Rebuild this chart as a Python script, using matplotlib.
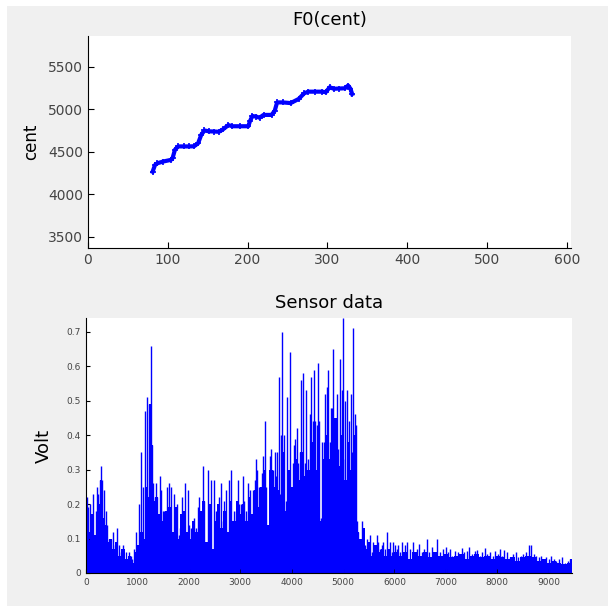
import matplotlib
matplotlib.use('Agg')
import matplotlib.pyplot as plt
from matplotlib.patches import Rectangle

# F0 contour (frame index, cent)
f0_time = [81, 84, 87, 94, 104, 106, 109, 113, 120, 127, 133, 138, 142, 146, 152, 158, 164, 169,
           176, 181, 190, 201, 203, 206, 211, 215, 220, 230, 234, 237, 244, 254, 264, 271, 276,
           285, 293, 298, 303, 308, 315, 322, 326, 329, 331]
f0_cent = [4266, 4345, 4365, 4385, 4405, 4425, 4524, 4563, 4563, 4563, 4565, 4600, 4700, 4750,
           4740, 4738, 4735, 4762, 4813, 4800, 4800, 4800, 4860, 4920, 4913, 4900, 4933, 4933,
           4980, 5080, 5080, 5072, 5120, 5187, 5206, 5206, 5206, 5200, 5258, 5240, 5243, 5246,
           5278, 5240, 5180]

# sensor spikes (sample index, volt)
sensor_x = [13, 39, 78, 104, 142, 188, 207, 233, 272, 298, 317, 350, 389, 415, 447, 492, 531, 557,
            596, 641, 687, 726, 771, 803, 836, 868, 901, 933, 965, 998, 1030, 1076, 1114, 1140,
            1192, 1225, 1257, 1283, 1309, 1335, 1354, 1387, 1438, 1464, 1490, 1516, 1568,
            1588, 1621, 1653, 1686, 1718, 1763, 1802, 1828, 1867, 1893, 1932, 1977, 2010, 2042,
            2074, 2107, 2139, 2172, 2204, 2236, 2269, 2301, 2321, 2366, 2398, 2431, 2463, 2496,
            2528, 2560, 2593, 2625, 2658, 2690, 2722, 2755, 2787, 2820, 2852, 2884, 2917, 2949,
            2982, 3014, 3046, 3079, 3111, 3143,
            3183, 3216, 3248, 3281, 3313, 3332, 3358, 3397, 3423, 3449, 3475, 3507, 3540, 3572,
            3605, 3637, 3669, 3702, 3721, 3747, 3773, 3799, 3818, 3851, 3883, 3916, 3942, 3961,
            3993, 4019, 4045, 4071, 4097, 4123, 4155, 4175, 4201, 4220, 4253, 4285, 4317, 4350,
            4382, 4415, 4434, 4460, 4486, 4512, 4531, 4564, 4590, 4628, 4654, 4680, 4706, 4739,
            4771, 4778, 4811, 4843, 4876, 4908, 4940, 4973, 4992, 5005, 5038, 5070, 5102, 5122,
            5148, 5174, 5200, 5226, 5251, 5277, 5297, 5329, 5362, 5394, 5426, 5459, 5491, 5524,
            5556, 5588, 5621, 5653, 5686, 5718, 5750, 5783, 5815, 5848, 5880, 5912, 5945, 5977,
            6010, 6042, 6074, 6107, 6139, 6172, 6204, 6236, 6301, 6366,
            6430, 6475, 6530, 6580, 6626, 6680, 6730, 6790, 6838, 6890, 6950, 7004, 7050, 7079,
            7130, 7180, 7240, 7306, 7360, 7410, 7457, 7510, 7560, 7608, 7660, 7710, 7758, 7810,
            7860, 7910, 7960, 8010, 8060, 8100, 8136, 8190, 8240, 8300, 8362, 8410, 8460, 8510,
            8560, 8626, 8664, 8710, 8760, 8810, 8853, 8900, 8950, 9000, 9042, 9100, 9150, 9200,
            9268, 9320, 9370, 9419]
sensor_peak = [0.22, 0.19, 0.20, 0.15, 0.23, 0.18, 0.25, 0.23, 0.27, 0.31, 0.27, 0.24, 0.18, 0.14,
               0.10, 0.10, 0.12, 0.08, 0.13, 0.08, 0.06, 0.08, 0.06, 0.04, 0.06, 0.05, 0.04, 0.07,
               0.12, 0.07, 0.20, 0.35, 0.25, 0.47, 0.51, 0.49, 0.66, 0.37, 0.26, 0.22, 0.26, 0.22,
               0.28, 0.24, 0.18, 0.18, 0.25,
               0.16, 0.26, 0.25, 0.12, 0.23, 0.20, 0.11, 0.13, 0.22, 0.18, 0.26, 0.24, 0.14, 0.13,
               0.10, 0.16, 0.13, 0.19, 0.22, 0.13, 0.31, 0.21, 0.08, 0.30, 0.08, 0.27, 0.07, 0.27,
               0.18, 0.09, 0.22, 0.26, 0.15, 0.21, 0.24, 0.12, 0.27, 0.30, 0.09, 0.18, 0.18, 0.27,
               0.20, 0.20, 0.28, 0.21, 0.18, 0.26,
               0.24, 0.15, 0.24, 0.27, 0.33, 0.30, 0.25, 0.20, 0.29, 0.34, 0.44, 0.25, 0.14, 0.34,
               0.36, 0.30, 0.35, 0.28, 0.35, 0.57, 0.23, 0.40, 0.70, 0.40, 0.21, 0.51, 0.22, 0.64,
               0.20, 0.32, 0.37, 0.39, 0.42, 0.32, 0.35, 0.56, 0.35, 0.58, 0.32, 0.53, 0.33, 0.46,
               0.57, 0.44, 0.59, 0.44, 0.43, 0.61, 0.44, 0.16, 0.38, 0.38, 0.52, 0.54, 0.59, 0.38,
               0.48, 0.48, 0.65, 0.41, 0.52, 0.36, 0.62, 0.53, 0.33, 0.74, 0.50, 0.53, 0.36, 0.44,
               0.52, 0.35, 0.71, 0.46, 0.43, 0.15, 0.12, 0.09, 0.15, 0.13, 0.08, 0.10, 0.08, 0.11,
               0.06, 0.09, 0.08, 0.11, 0.09, 0.07, 0.08, 0.09, 0.07, 0.12, 0.06, 0.09, 0.06, 0.09,
               0.08, 0.07, 0.08, 0.06, 0.09, 0.06, 0.08, 0.09, 0.07, 0.09,
               0.07, 0.085, 0.06, 0.07, 0.10, 0.06, 0.075, 0.05, 0.10, 0.06, 0.07, 0.075, 0.06, 0.07,
               0.05, 0.065, 0.06, 0.073, 0.06, 0.065, 0.075, 0.055, 0.065, 0.068, 0.05, 0.06, 0.073,
               0.055, 0.06, 0.05, 0.065, 0.055, 0.07, 0.05, 0.068, 0.06, 0.045, 0.055, 0.06, 0.045,
               0.05, 0.055, 0.06, 0.08, 0.08, 0.055, 0.05, 0.045, 0.05, 0.04, 0.045, 0.04, 0.05,
               0.04, 0.035, 0.04, 0.045, 0.03, 0.035, 0.04]

# dense (dark) lower part of the signal
base_x = [0, 60, 120, 180, 240, 290, 330, 380, 430, 480, 540, 600, 660, 720, 780, 840, 900, 960,
          1020, 1080, 1120, 1160, 1200, 1240, 1280, 1320, 1380, 1440, 1500, 1560, 1620, 1680,
          1740, 1800, 1860, 1920, 1980, 2040, 2100, 2160, 2220, 2280, 2340, 2400, 2460, 2520,
          2580, 2640, 2700, 2760, 2820, 2880, 2940, 3000, 3060, 3120, 3180, 3240, 3300, 3360,
          3420, 3480, 3540, 3600, 3660, 3720, 3780, 3840, 3900, 3960, 4020, 4080, 4140, 4200,
          4260, 4320, 4380, 4440, 4500, 4560, 4620, 4680, 4740, 4800, 4860, 4920, 4980, 5040,
          5100, 5160, 5220, 5260, 5280, 5340, 5400, 5460, 5520, 5580, 5640, 5700, 5760, 5820,
          5880, 5940, 6000, 6100, 6200, 6300, 6400, 6500, 6600, 6700, 6800, 6900, 7000, 7100,
          7200, 7300, 7400, 7500, 7600, 7700, 7800, 7900, 8000, 8100, 8200, 8300, 8400, 8500,
          8600, 8700, 8800, 8900, 9000, 9100, 9200, 9300, 9400, 9450]
base_v = [0.20, 0.12, 0.17, 0.11, 0.20, 0.27, 0.16, 0.14, 0.09, 0.10, 0.07, 0.09, 0.05, 0.07,
          0.04, 0.05, 0.03, 0.06, 0.08, 0.12, 0.10, 0.25, 0.22, 0.49, 0.37, 0.21, 0.22, 0.17,
          0.15, 0.18, 0.19, 0.12, 0.19, 0.10, 0.17, 0.18, 0.12, 0.10, 0.15, 0.12, 0.18, 0.21,
          0.09, 0.20, 0.07, 0.15, 0.20, 0.13, 0.18, 0.12, 0.21, 0.15, 0.21, 0.17, 0.20, 0.15,
          0.22, 0.17, 0.24, 0.19, 0.25, 0.30, 0.14, 0.30, 0.25, 0.24, 0.21, 0.35, 0.18, 0.30,
          0.25, 0.33, 0.27, 0.35, 0.28, 0.30, 0.38, 0.36, 0.30, 0.15, 0.33, 0.40, 0.33, 0.36,
          0.45, 0.31, 0.40, 0.27, 0.38, 0.30, 0.40, 0.38, 0.12, 0.10, 0.13, 0.07, 0.09, 0.05,
          0.08, 0.06, 0.07, 0.05, 0.07, 0.05, 0.06, 0.05, 0.06, 0.04, 0.06, 0.05, 0.06, 0.045,
          0.06, 0.05, 0.055, 0.045, 0.05, 0.055, 0.04, 0.05, 0.055, 0.045, 0.05, 0.04, 0.05,
          0.045, 0.04, 0.045, 0.035, 0.045, 0.05, 0.045, 0.035, 0.04, 0.03, 0.035, 0.03, 0.025,
          0.03, 0.04]

fig = plt.figure(figsize=(6.08, 6.06), dpi=100, facecolor='white')
fig.patches.append(Rectangle((7 / 608, 0), 1, 1 - 6 / 606, transform=fig.transFigure,
                             facecolor='#f0f0f0', edgecolor='none', zorder=-10))

# top: F0
ax1 = fig.add_axes([0.1447, 0.5908, 0.794, 0.3498])
ax1.plot(f0_time, f0_cent, color='blue', lw=3, marker='+', ms=4, mew=1.2)
ax1.set_xlim(0, 605)
ax1.set_ylim(3370, 5860)
ax1.set_xticks([0, 100, 200, 300, 400, 500, 600])
ax1.set_yticks([3500, 4000, 4500, 5000, 5500])
ax1.set_title('F0(cent)', fontsize=13, pad=8)
ax1.set_ylabel('cent', fontsize=12, labelpad=6)
ax1.tick_params(direction='in', labelsize=10, labelcolor='#444444', length=4, width=0.8)
for s in ['top', 'right']:
    ax1.spines[s].set_visible(False)

# bottom: sensor
ax2 = fig.add_axes([0.1414, 0.0545, 0.799, 0.4208])
ax2.fill_between(base_x, 0, base_v, step='mid', color='blue', lw=0)
ax2.vlines(sensor_x, 0, sensor_peak, color='blue', lw=1.0)
ax2.set_xlim(0, 9450)
ax2.set_ylim(0, 0.74)
ax2.set_xticks(range(0, 9001, 1000))
ax2.set_yticks([0, 0.1, 0.2, 0.3, 0.4, 0.5, 0.6, 0.7])
ax2.set_yticklabels(['0', '0.1', '0.2', '0.3', '0.4', '0.5', '0.6', '0.7'])
ax2.set_title('Sensor data', fontsize=13, pad=7)
ax2.set_ylabel('Volt', fontsize=13, labelpad=10)
ax2.tick_params(direction='in', labelsize=6.5, labelcolor='#444444', length=3, width=0.8)
for lab in ax2.get_xticklabels() + ax2.get_yticklabels():
    lab.set_family(['Liberation Sans Narrow', 'DejaVu Sans'])
for s in ['top', 'right']:
    ax2.spines[s].set_visible(False)

fig.savefig('out.png', dpi=100, facecolor=fig.get_facecolor())
